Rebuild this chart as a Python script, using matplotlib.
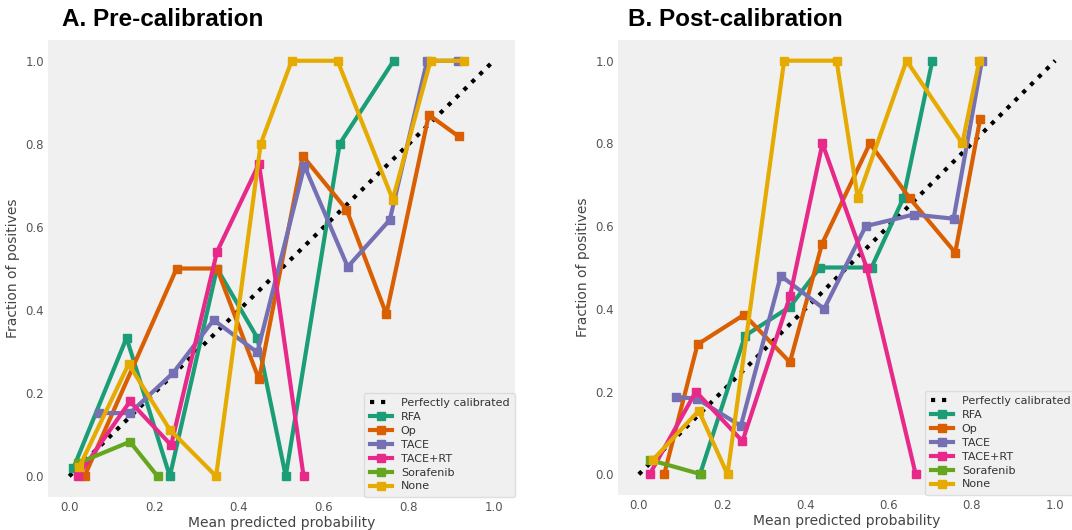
import matplotlib
matplotlib.use("Agg")
import matplotlib.pyplot as plt

# ---------------- data ----------------
series_names = ["RFA", "Op", "TACE", "TACE+RT", "Sorafenib", "None"]
series_colors = ["#1b9e77", "#d95f02", "#7570b3", "#e7298a", "#66a61e", "#e6ab02"]

# Panel A: pre-calibration (mean predicted probability, fraction of positives)
pre_rfa_x = [0.01, 0.135, 0.237, 0.348, 0.443, 0.51, 0.637, 0.764]
pre_rfa_y = [0.02, 0.333, 0.0, 0.5, 0.333, 0.0, 0.8, 1.0]
pre_op_x = [0.036, 0.253, 0.348, 0.447, 0.55, 0.653, 0.747, 0.847, 0.917]
pre_op_y = [0.0, 0.5, 0.5, 0.233, 0.771, 0.642, 0.39, 0.87, 0.818]
pre_tace_x = [0.07, 0.143, 0.245, 0.34, 0.443, 0.554, 0.656, 0.755, 0.843, 0.915]
pre_tace_y = [0.152, 0.152, 0.249, 0.376, 0.298, 0.747, 0.504, 0.617, 1.0, 1.0]
pre_tacert_x = [0.02, 0.143, 0.24, 0.348, 0.447, 0.552]
pre_tacert_y = [0.0, 0.18, 0.075, 0.54, 0.752, 0.0]
pre_sora_x = [0.02, 0.143, 0.208]
pre_sora_y = [0.031, 0.083, 0.0]
pre_none_x = [0.024, 0.14, 0.237, 0.346, 0.451, 0.524, 0.632, 0.762, 0.851, 0.93]
pre_none_y = [0.023, 0.27, 0.112, 0.0, 0.80, 1.0, 1.0, 0.666, 1.0, 1.0]

# Panel B: post-calibration
post_rfa_x = [0.147, 0.255, 0.363, 0.435, 0.559, 0.635, 0.705]
post_rfa_y = [0.0, 0.335, 0.405, 0.5, 0.5, 0.667, 1.0]
post_op_x = [0.061, 0.141, 0.253, 0.363, 0.44, 0.555, 0.651, 0.76, 0.82]
post_op_y = [0.0, 0.314, 0.386, 0.271, 0.557, 0.80, 0.667, 0.536, 0.86]
post_tace_x = [0.089, 0.139, 0.245, 0.341, 0.445, 0.545, 0.66, 0.756, 0.824]
post_tace_y = [0.187, 0.183, 0.117, 0.48, 0.40, 0.60, 0.628, 0.618, 1.0]
post_tacert_x = [0.026, 0.137, 0.249, 0.363, 0.441, 0.547, 0.665]
post_tacert_y = [0.0, 0.2, 0.08, 0.43, 0.80, 0.5, 0.0]
post_sora_x = [0.026, 0.15]
post_sora_y = [0.035, 0.0]
post_none_x = [0.034, 0.144, 0.213, 0.349, 0.475, 0.526, 0.643, 0.777, 0.818]
post_none_y = [0.035, 0.154, 0.0, 1.0, 1.0, 0.667, 1.0, 0.80, 1.0]

ticks = [0.0, 0.2, 0.4, 0.6, 0.8, 1.0]
tick_labels = ["0.0", "0.2", "0.4", "0.6", "0.8", "1.0"]

pre_series = [(pre_rfa_x, pre_rfa_y), (pre_op_x, pre_op_y), (pre_tace_x, pre_tace_y),
              (pre_tacert_x, pre_tacert_y), (pre_sora_x, pre_sora_y), (pre_none_x, pre_none_y)]
post_series = [(post_rfa_x, post_rfa_y), (post_op_x, post_op_y), (post_tace_x, post_tace_y),
               (post_tacert_x, post_tacert_y), (post_sora_x, post_sora_y), (post_none_x, post_none_y)]

# ---------------- figure ----------------
W, H = 1072, 530
fig = plt.figure(figsize=(W / 100, H / 100), dpi=100, facecolor="white")


def px_axes(x0, x1, ytop, ybot):
    return fig.add_axes([x0 / W, 1 - ybot / H, (x1 - x0) / W, (ybot - ytop) / H])


axA = px_axes(48, 515, 40, 497)
axB = px_axes(618, 1076, 40, 495)

for ax, data, title, tx in [(axA, pre_series, "A. Pre-calibration", 62),
                             (axB, post_series, "B. Post-calibration", 628)]:
    ax.set_facecolor("#f0f0f0")
    for s in ax.spines.values():
        s.set_visible(False)
    ax.plot([0, 1], [0, 1], linestyle=":", color="black", lw=3,
            label="Perfectly calibrated", zorder=1)
    for (xs, ys), name, col in zip(data, series_names, series_colors):
        ax.plot(xs, ys, "s-", color=col, lw=3, ms=6, label=name, zorder=2)
    ax.set_xlim(-0.05, 1.05)
    ax.set_ylim(-0.05, 1.05)
    ax.set_xticks(ticks)
    ax.set_xticklabels(tick_labels)
    ax.set_yticks(ticks)
    ax.set_yticklabels(tick_labels)
    ax.tick_params(length=0, labelsize=8.5, labelcolor="#555555", pad=3)
    ax.set_xlabel("Mean predicted probability", fontsize=10, color="#444444", labelpad=1)
    ax.set_ylabel("Fraction of positives", fontsize=10, color="#444444", labelpad=4)
    ax.grid(False)
    leg = ax.legend(loc="lower right", fontsize=8, frameon=True, handlelength=2.0,
                    borderpad=0.5, labelspacing=0.35, handletextpad=0.8,
                    borderaxespad=0.0)
    leg.get_frame().set_facecolor("#f0f0f0")
    leg.get_frame().set_edgecolor("#d8d8d8")
    for t in leg.get_texts():
        t.set_color("#333333")
    fig.text(tx / W, 1 - 19 / H, title, fontsize=17.5, fontweight="bold",
             family=["Liberation Sans", "DejaVu Sans"], va="center", ha="left",
             color="black")

fig.savefig("out.png", dpi=100, facecolor="white")
